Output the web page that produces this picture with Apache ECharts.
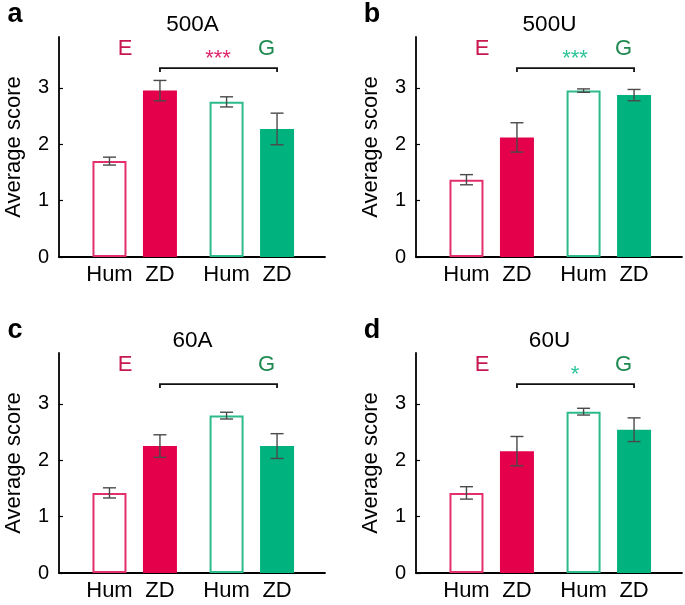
<!DOCTYPE html>
<html>
<head>
<meta charset="utf-8">
<script src="https://cdn.jsdelivr.net/npm/echarts@6/dist/echarts.min.js"></script>
<style>
html,body{margin:0;padding:0;background:#fff;}
#chart{width:685px;height:605px;}
</style>
</head>
<body>
<div id="chart"></div>
<script>
// ---------- data ----------
const categories = ['Hum', 'ZD', 'Hum', 'ZD'];
const groupLabels = ['E', 'G'];
const panelTitles = ['500A', '500U', '60A', '60U'];
const panelLetters = ['a', 'b', 'c', 'd'];
const values500A = [1.70, 2.95, 2.75, 2.27];
const errors500A = [0.07, 0.18, 0.09, 0.28];
const values500U = [1.37, 2.12, 2.95, 2.87];
const errors500U = [0.09, 0.26, 0.03, 0.10];
const values60A = [1.42, 2.25, 2.79, 2.25];
const errors60A = [0.09, 0.20, 0.06, 0.22];
const values60U = [1.42, 2.16, 2.86, 2.54];
const errors60U = [0.11, 0.26, 0.06, 0.21];
const significance = ['***', '***', '', '*'];
const yTickValues = [0, 1, 2, 3];

// ---------- layout / style ----------
const FONT = '"Liberation Sans", Arial, Helvetica, sans-serif';
const RED = '#E5004C', RED_EDGE = '#E2306A', RED_TEXT = '#C8174F';
const GREEN = '#00B27E', GREEN_EDGE = '#2DBB8C', GREEN_TEXT = '#1F8A50';
const starColors = ['#E0266E', '#2EC49A', '#2EC49A', '#2EC49A'];
const xPos = [1, 2, 3.32, 4.32];          // bar slots on the x scale
const xMax = 5.27, yMax = 3.9;
const barStyles = [
  {color: '#ffffff', borderColor: RED_EDGE, borderWidth: 2},
  {color: RED},
  {color: '#ffffff', borderColor: GREEN_EDGE, borderWidth: 2},
  {color: GREEN}
];
const gridOrigins = [[59, 37], [416, 37], [59, 353], [416, 353]];
const gridW = 266, gridH = 220;
const bracketY = 3.35;
const groupLabelPos = [[1.31, 3.69], [4.11, 3.69]];
const starPos = [3.15, 3.58];

const allValues = [values500A, values500U, values60A, values60U];
const allErrors = [errors500A, errors500U, errors60A, errors60U];

const chart = echarts.init(document.getElementById('chart'), null, {renderer: 'canvas'});

const grid = [], xAxis = [], yAxis = [], series = [], graphic = [];
gridOrigins.forEach((o, p) => {
  grid.push({left: o[0], top: o[1], width: gridW, height: gridH, containLabel: false});
  xAxis.push({
    type: 'value', gridIndex: p, min: 0, max: xMax,
    splitLine: {show: false},
    axisLine: {show: true, lineStyle: {color: '#000', width: 1.8}},
    axisTick: {show: false},
    axisLabel: {
      customValues: xPos,
      margin: 7,
      fontSize: 22, color: '#000', fontFamily: FONT,
      formatter: v => {
        let best = 0;
        xPos.forEach((x, i) => { if (Math.abs(x - v) < Math.abs(xPos[best] - v)) best = i; });
        return categories[best];
      }
    }
  });
  yAxis.push({
    type: 'value', gridIndex: p, min: 0, max: yMax,
    splitLine: {show: false},
    axisLine: {show: true, lineStyle: {color: '#000', width: 1.8}},
    axisTick: {show: true, inside: true, length: 4, customValues: yTickValues, lineStyle: {color: '#000', width: 1.2}},
    axisLabel: {customValues: yTickValues, margin: 10, fontSize: 20, color: '#000', fontFamily: FONT},
    name: 'Average score', nameLocation: 'middle', nameGap: 34,
    nameTextStyle: {fontSize: 22, color: '#000', fontFamily: FONT}
  });

  const vals = allValues[p], errs = allErrors[p];
  series.push({
    type: 'bar', xAxisIndex: p, yAxisIndex: p, barWidth: 34,
    data: vals.map((v, i) => ({value: [xPos[i], v], itemStyle: barStyles[i]})),
    z: 2
  });
  series.push({
    type: 'custom', xAxisIndex: p, yAxisIndex: p, z: 5,
    data: vals.map((v, i) => [xPos[i], v, errs[i]]),
    renderItem: (params, api) => {
      const x = api.value(0), v = api.value(1), e = api.value(2);
      const t = api.coord([x, v + e]), b = api.coord([x, v - e]);
      const hw = 6.5;
      const st = {stroke: '#4a4a4a', lineWidth: 1.4};
      return {type: 'group', children: [
        {type: 'line', shape: {x1: t[0], y1: t[1], x2: b[0], y2: b[1]}, style: st},
        {type: 'line', shape: {x1: t[0] - hw, y1: t[1], x2: t[0] + hw, y2: t[1]}, style: st},
        {type: 'line', shape: {x1: b[0] - hw, y1: b[1], x2: b[0] + hw, y2: b[1]}, style: st}
      ]};
    }
  });
  // bracket + group labels + significance
  series.push({
    type: 'custom', xAxisIndex: p, yAxisIndex: p, z: 6, clip: false,
    data: [[xPos[1], xPos[3], bracketY]],
    renderItem: (params, api) => {
      const a = api.coord([api.value(0), api.value(2)]);
      const b = api.coord([api.value(1), api.value(2)]);
      const e = api.coord(groupLabelPos[0]), g = api.coord(groupLabelPos[1]);
      const s = api.coord(starPos);
      const children = [
        {type: 'polyline', shape: {points: [[a[0], a[1] + 4], a, b, [b[0], b[1] + 4]]},
         style: {stroke: '#111', lineWidth: 1.8, fill: null}},
        {type: 'text', x: e[0], y: e[1], style: {text: groupLabels[0], fill: RED_TEXT, font: '22px ' + FONT, align: 'center', verticalAlign: 'middle'}},
        {type: 'text', x: g[0], y: g[1], style: {text: groupLabels[1], fill: GREEN_TEXT, font: '22px ' + FONT, align: 'center', verticalAlign: 'middle'}}
      ];
      if (significance[p]) {
        children.push({type: 'text', x: s[0], y: s[1] + 4, style: {text: significance[p], fill: starColors[p], font: '22px ' + FONT, align: 'center', verticalAlign: 'middle'}});
      }
      return {type: 'group', children};
    }
  });

  graphic.push({type: 'text', x: o[0] + gridW / 2 + 0.5, y: o[1] - 12,
    style: {text: panelTitles[p], fill: '#000', font: '22.5px ' + FONT, align: 'center', verticalAlign: 'middle'}});
  graphic.push({type: 'text', x: o[0] - 44, y: o[1] - 22,
    style: {text: panelLetters[p], fill: '#000', font: 'bold 27px ' + FONT, align: 'center', verticalAlign: 'middle'}});
});

chart.setOption({
  animation: false,
  backgroundColor: '#ffffff',
  grid, xAxis, yAxis, series, graphic
});
</script>
</body>
</html>
